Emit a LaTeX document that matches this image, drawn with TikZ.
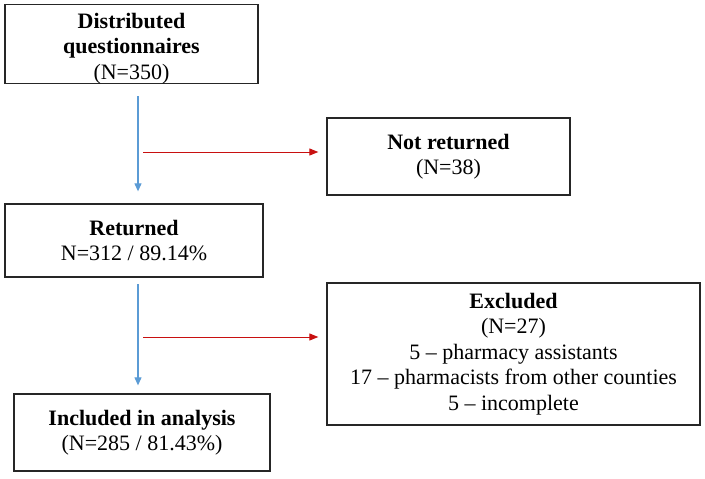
\documentclass[tikz,border=0pt]{standalone}
\usepackage{fontspec}
\setmainfont{Liberation Serif}
\usepackage{xcolor}
\usepackage{tikz}
\usetikzlibrary{arrows.meta,positioning,calc}
\definecolor{flowblue}{RGB}{91,155,213}
\definecolor{flowred}{RGB}{200,16,16}
\newcommand{\hd}[1]{\textbf{#1}}

\begin{document}
\begin{tikzpicture}[
      x=1pt, y=-1pt,
      box/.style={draw=black!85, line width=1.3pt, fill=white, inner sep=0pt, align=center,
        font=\fontsize{22}{25.5}\selectfont},
      down/.style={-{Triangle[length=8pt,width=7pt]}, line width=1.1pt, draw=flowblue},
      side/.style={-{Triangle[length=9pt,width=7pt]}, line width=0.9pt, draw=flowred}
    ]
      \useasboundingbox (0,0) rectangle (705,479);
      \node[box, minimum width=253pt, minimum height=78pt] (dist) at (131.5,44) {\rule{0pt}{24pt}\hd{Distributed}\\\hd{questionnaires}\\(N=350)};
      \node[box, minimum width=243pt, minimum height=77pt] (nret) at (448.5,156.5) {\hd{Not returned}\\(N=38)};
      \node[box, minimum width=258pt, minimum height=73pt] (ret) at (134,240.5) {\hd{Returned}\\N=312 / 89.14\%};
      \node[box, minimum width=373pt, minimum height=142pt] (excl) at (513.5,354) {\hd{Excluded}\\(N=27)\\5 – pharmacy assistants\\17 – pharmacists from other counties\\5 – incomplete};
      \node[box, minimum width=256pt, minimum height=77pt] (incl) at (142,432.5) {\hd{Included in analysis}\\(N=285 / 81.43\%)};
      % flow down
      \coordinate (a1) at (138,96);
      \coordinate (a2) at (138,284);
      \draw[down, shorten >=12pt] (a1) -- (a1 |- ret.north);
      \draw[down, shorten >=8pt] (a2) -- (a2 |- incl.north);
      % dropped out
      \coordinate (r1) at (143,152);
      \coordinate (r2) at (143,337);
      \draw[side, shorten >=8pt] (r1) -- (r1 -| nret.west);
      \draw[side, shorten >=8pt] (r2) -- (r2 -| excl.west);
    \end{tikzpicture}
\end{document}
